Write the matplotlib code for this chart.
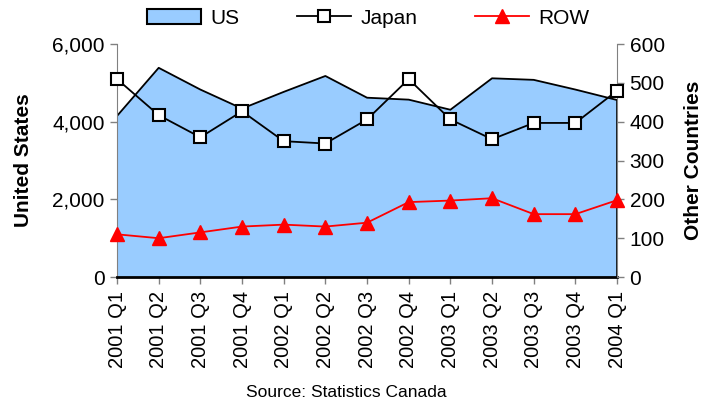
import numpy as np
import matplotlib
matplotlib.use("Agg")
import matplotlib.pyplot as plt
from matplotlib.patches import Patch
from matplotlib.lines import Line2D
from matplotlib.ticker import FuncFormatter

plt.rcParams['font.family'] = ['Liberation Sans', 'DejaVu Sans']

quarters = ['2001 Q1', '2001 Q2', '2001 Q3', '2001 Q4',
            '2002 Q1', '2002 Q2', '2002 Q3', '2002 Q4',
            '2003 Q1', '2003 Q2', '2003 Q3', '2003 Q4',
            '2004 Q1']
us = [4150, 5390, 4830, 4340, 4770, 5180, 4620, 4570, 4310, 5120, 5080, 4830, 4560]
japan = [510, 417, 360, 427, 350, 344, 406, 510, 406, 355, 397, 397, 480]
row = [110, 100, 115, 130, 135, 130, 140, 193, 197, 203, 162, 162, 198]

x = np.arange(len(quarters))
grey = '#808080'

fig = plt.figure(figsize=(7.02, 4.05), dpi=100)
ax = fig.add_axes([0.1667, 0.316, 0.7123, 0.575])
ax2 = ax.twinx()

# US area on the left axis
ax.fill_between(x, us, 0, facecolor='#99CCFF', edgecolor='none', zorder=1)
ax.plot(np.r_[x[0], x, x[-1]], np.r_[0, us, 0], color='black', lw=1.3, zorder=2)
ax.plot([x[0], x[-1]], [0, 0], color='black', lw=2, zorder=3, clip_on=False)
ax.set_xlim(x[0], x[-1])
ax.set_ylim(0, 6000)
ax.set_yticks([0, 2000, 4000, 6000])
ax.yaxis.set_major_formatter(FuncFormatter(lambda v, p: f'{int(v):,}'))
ax.set_xticks(x)
ax.set_xticklabels(quarters, rotation=90)
ax.set_ylabel('United States', fontsize=15, fontweight='bold', labelpad=14)

# Japan and rest of world on the right axis
ax2.plot(x, japan, color='black', lw=1.3, marker='s', ms=9, mfc='white',
         mec='black', mew=1.5, clip_on=False, zorder=4)
ax2.plot(x, row, color='red', lw=1.3, marker='^', ms=10, mfc='red',
         mec='red', clip_on=False, zorder=4)
ax2.set_ylim(0, 600)
ax2.set_yticks(range(0, 601, 100))
ax2.set_ylabel('Other Countries', fontsize=15, fontweight='bold', labelpad=14)

for a in (ax, ax2):
    for s in a.spines.values():
        s.set_visible(False)
    a.tick_params(direction='out', length=5, width=1, color=grey, labelsize=15, pad=4)
    a.patch.set_visible(False)
ax.tick_params(axis='x', labelsize=14.5, pad=5)
ax.spines['left'].set_visible(True)
ax.spines['left'].set_color(grey)
ax2.spines['right'].set_visible(True)
ax2.spines['right'].set_color(grey)
ax.set_zorder(1)
ax2.set_zorder(2)

handles = [Patch(facecolor='#99CCFF', edgecolor='black', lw=1.5),
           Line2D([], [], color='black', lw=1.3, marker='s', ms=8, mfc='white', mec='black', mew=1.5),
           Line2D([], [], color='red', lw=1.3, marker='^', ms=10, mfc='red', mec='red')]
fig.legend(handles, ['US', 'Japan', 'ROW'], loc='center', bbox_to_anchor=(0.525, 0.955),
           ncol=3, frameon=False, fontsize=15, handlelength=2.6, columnspacing=2.75,
           handletextpad=0.45)

fig.text(0.493, 0.012, 'Source: Statistics Canada', ha='center', va='bottom', fontsize=12.5)

fig.savefig('out.png', dpi=100)
